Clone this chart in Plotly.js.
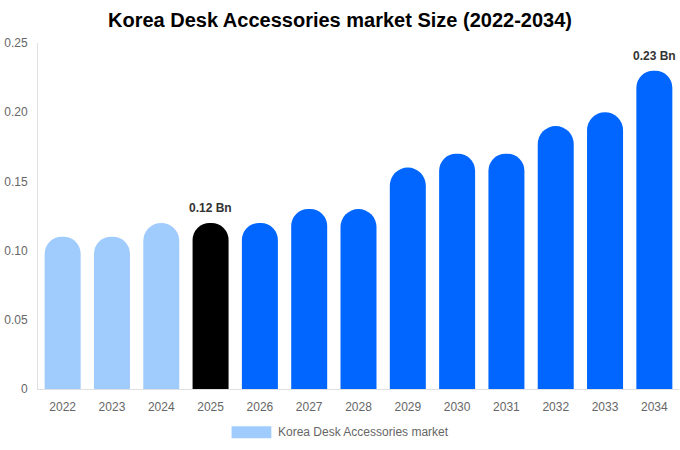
<!DOCTYPE html>
<html>
<head>
<meta charset="utf-8">
<script src="https://cdn.plot.ly/plotly-3.0.1.min.js"></script>
<style>html,body{margin:0;padding:0;background:#fff;}#chart{width:680px;height:450px;}</style>
</head>
<body>
<div id="chart"></div>
<script>
var years = ["2022","2023","2024","2025","2026","2027","2028","2029","2030","2031","2032","2033","2034"];
var values = [0.11, 0.11, 0.12, 0.12, 0.12, 0.13, 0.13, 0.16, 0.17, 0.17, 0.19, 0.20, 0.23];
var barColors = ["#a0cbfd","#a0cbfd","#a0cbfd","#000000","#0066ff","#0066ff","#0066ff","#0066ff","#0066ff","#0066ff","#0066ff","#0066ff","#0066ff"];
var labelledYears = ["2025","2034"];
var yTickVals = [0, 0.05, 0.10, 0.15, 0.20, 0.25];
var yTickText = ["0", "0.05", "0.10", "0.15", "0.20", "0.25"];
var seriesName = "Korea Desk Accessories market";
var chartTitle = "Korea Desk Accessories market Size (2022-2034)";

var trace = {
  type: "bar",
  x: years,
  y: values,
  name: seriesName,
  marker: { color: barColors, cornerradius: 18 },
  hoverinfo: "x+y",
  showlegend: false
};

var annotations = labelledYears.map(function (yr) {
  var idx = years.indexOf(yr);
  var v = values[idx];
  return {
    x: idx, y: v, xref: "x", yref: "y",
    text: "<b>" + v.toFixed(2) + " Bn</b>",
    showarrow: false, yanchor: "bottom", yshift: 6,
    font: { family: "Liberation Sans, Arial, sans-serif", size: 12, color: "#333333" }
  };
});
annotations.push({
  xref: "paper", yref: "paper", x: 0.371, y: -0.125,
  xanchor: "left", yanchor: "middle",
  text: seriesName, showarrow: false,
  font: { family: "Liberation Sans, Arial, sans-serif", size: 12, color: "#666666" }
});

var layout = {
  width: 680, height: 450,
  margin: { l: 38, r: 1, t: 43, b: 61 },
  paper_bgcolor: "#ffffff", plot_bgcolor: "#ffffff",
  title: {
    text: "<b>" + chartTitle + "</b>",
    x: 0.5, xanchor: "center", y: 0.955, yanchor: "middle",
    font: { family: "Liberation Sans, Arial, sans-serif", size: 20, color: "#000000" }
  },
  bargap: 0.27,
  xaxis: {
    type: "category",
    range: [-0.5, years.length - 0.5],
    showgrid: false, showline: true, linecolor: "#e0e0e0", linewidth: 1,
    ticks: "", ticklabelstandoff: 7,
    tickfont: { family: "Liberation Sans, Arial, sans-serif", size: 12, color: "#666666" },
    zeroline: false, fixedrange: true
  },
  yaxis: {
    range: [0, 0.25],
    tickvals: yTickVals, ticktext: yTickText,
    showgrid: false, showline: true, linecolor: "#e0e0e0", linewidth: 1,
    zeroline: false, ticks: "", ticklabelstandoff: 7,
    tickfont: { family: "Liberation Sans, Arial, sans-serif", size: 12, color: "#666666" },
    fixedrange: true
  },
  shapes: [{
    type: "rect", xref: "paper", yref: "paper",
    x0: 0.302, x1: 0.364, y0: -0.142, y1: -0.108,
    fillcolor: "#a0cbfd", line: { width: 0 }
  }],
  annotations: annotations,
  showlegend: false
};

Plotly.newPlot("chart", [trace], layout, { displayModeBar: false, staticPlot: true });
</script>
</body>
</html>
